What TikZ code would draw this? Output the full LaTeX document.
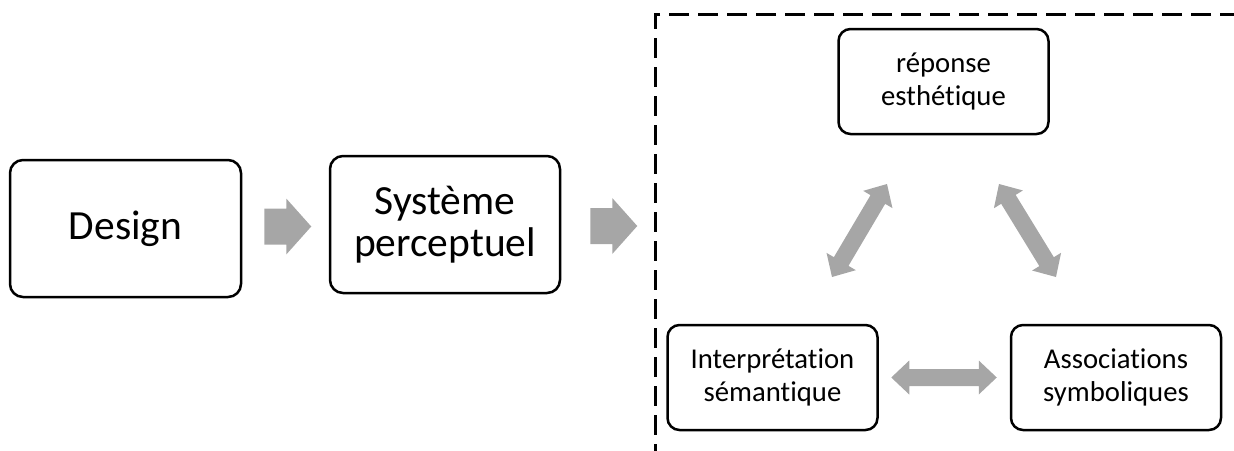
\documentclass[tikz,border=0pt]{standalone}
\usepackage{fontspec}
\setmainfont[Ligatures=NoCommon]{Carlito}
\usetikzlibrary{calc}
\definecolor{arrowgray}{RGB}{166,166,166}
\newcommand{\blockdbl}[5]{%
  \path ($(#1)!#5!(#2)$) coordinate (p1) ($(#2)!#5!(#1)$) coordinate (p2);
  \fill[arrowgray] (#1) -- ($(p1)!#4!90:(#2)$) -- ($(p1)!#3!90:(#2)$)
    -- ($(p2)!#3!-90:(#1)$) -- ($(p2)!#4!-90:(#1)$) -- (#2)
    -- ($(p2)!#4!90:(#1)$) -- ($(p2)!#3!90:(#1)$)
    -- ($(p1)!#3!-90:(#2)$) -- ($(p1)!#4!-90:(#2)$) -- cycle;}
\newcommand{\blocksgl}[5]{%
  \path ($(#2)!#5!(#1)$) coordinate (p2);
  \fill[arrowgray] ($(#1)!#3!90:(#2)$) -- ($(p2)!#3!-90:(#1)$) -- ($(p2)!#4!-90:(#1)$)
    -- (#2) -- ($(p2)!#4!90:(#1)$) -- ($(p2)!#3!90:(#1)$) -- ($(#1)!#3!-90:(#2)$) -- cycle;}
\begin{document}
\begin{tikzpicture}[x=1pt,y=-1pt,
  bigbox/.style={draw, line width=2.5pt, rounded corners=13pt, align=center,
    minimum width=231pt, minimum height=137pt, inner sep=0pt,
    font=\fontsize{41.5}{42}\selectfont},
  smallbox/.style={draw, line width=2.5pt, rounded corners=12pt, align=center,
    minimum width=210pt, minimum height=105pt, inner sep=0pt,
    font=\fontsize{28.7}{32.5}\selectfont},
  dashline/.style={draw, line width=3pt, dash pattern=on 20pt off 9pt}]
\useasboundingbox (0,0) rectangle (1234,450);
% dashed frame
\coordinate (fr1) at (1240,14);
\coordinate (frc) at (655,14);
\coordinate (fr2) at (655,456);
\draw[dashline] (fr1) -- (frc) -- (fr2);
% boxes
\node[bigbox] (design) at (125.5,228.5) {Design};
\node[bigbox, minimum width=230pt] (sys) at (445,224.5) {Système\\perceptuel};
\node[smallbox] (rep) at (943.5,81.5) {réponse\\esthétique};
\node[smallbox] (interp) at (772.5,377.5) {Interprétation\\sémantique};
\node[smallbox] (assoc) at (1116,377.5) {Associations\\symboliques};
% arrows
\coordinate (a1s) at ($(design.east)+(22,-2)$);
\coordinate (a1e) at ($(a1s)+(47,0)$);
\blocksgl{a1s}{a1e}{18pt}{28pt}{25pt}
\coordinate (a2s) at ($(sys.east)+(29,1.5)$);
\coordinate (a2e) at ($(a2s)+(47,0)$);
\blocksgl{a2s}{a2e}{18pt}{28pt}{25pt}
\coordinate (h1) at ($(interp.east)+(12.5,0)$);
\coordinate (h2) at ($(assoc.west)+(-13,0)$);
\blockdbl{h1}{h2}{8.5pt}{17pt}{18pt}
\coordinate (l1) at (832,277);
\coordinate (l2) at (887,184);
\blockdbl{l1}{l2}{8.5pt}{17pt}{18pt}
\coordinate (r1) at (999,184);
\coordinate (r2) at (1056,277);
\blockdbl{r1}{r2}{8.5pt}{17pt}{18pt}
\end{tikzpicture}
\end{document}
